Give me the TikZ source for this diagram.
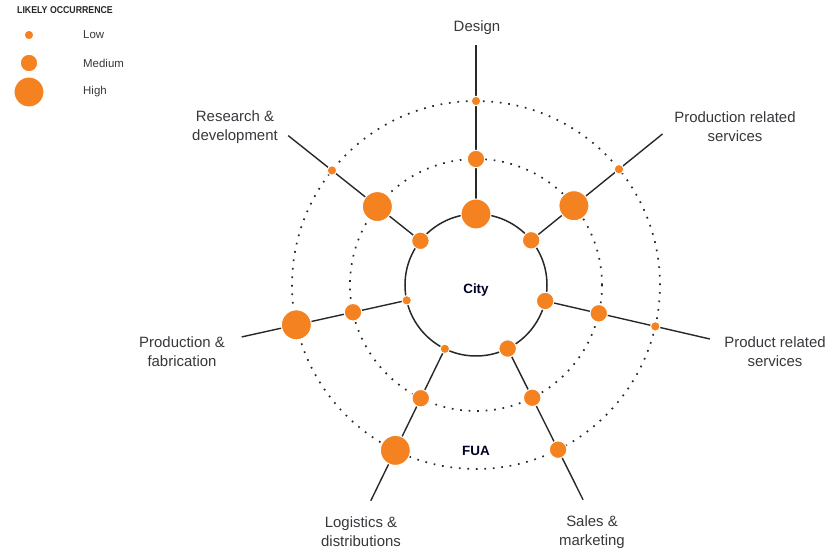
\documentclass[tikz,border=0pt]{standalone}
\usepackage{fontspec}
\setmainfont{Liberation Sans}
\newfontfamily\titlefont{Liberation Sans}[FakeStretch=0.88]
\usepackage{tikz}
\usetikzlibrary{positioning}
\definecolor{dotorange}{RGB}{245,130,32}
\definecolor{inkgray}{RGB}{55,55,60}
\definecolor{linegray}{RGB}{40,40,40}
\tikzset{lowdot/.style={circle, fill=dotorange, draw=white, line width=1bp, inner sep=0pt, minimum size=9.5bp}}
\tikzset{meddot/.style={circle, fill=dotorange, draw=white, line width=1bp, inner sep=0pt, minimum size=17.5bp}}
\tikzset{highdot/.style={circle, fill=dotorange, draw=white, line width=1bp, inner sep=0pt, minimum size=30bp}}
\tikzset{spoke/.style={draw=linegray, line width=1.4bp}}
\tikzset{ring/.style={draw=linegray, line width=1.7bp, dash pattern=on 1.7bp off 6.8bp}}
\tikzset{spokelabel/.style={align=center, text=inkgray, inner sep=0pt, font=\fontsize{15}{19}\selectfont}}
\tikzset{zonelabel/.style={text=black!85!blue, font=\fontsize{13.5}{15}\selectfont\bfseries}}
\tikzset{legendtext/.style={anchor=west, text=inkgray, inner sep=0pt, font=\fontsize{11.5}{13}\selectfont}}

\begin{document}
\begin{tikzpicture}[x=1bp, y=1bp]
\useasboundingbox (-476,-268) rectangle (353,285);

% legend
\node[anchor=west, inner sep=0pt, text=black!85, font=\fontsize{10}{12}\titlefont\bfseries] (legtitle) at (-459, 275) {LIKELY OCCURRENCE};
\node[lowdot] (leglow) at (-447, 250) {};
\node[meddot] (legmed) at (-447, 222) {};
\node[highdot] (leghigh) at (-447, 193) {};
\node[legendtext] () at (-393, 250) {Low};
\node[legendtext] () at (-393, 222) {Medium};
\node[legendtext] () at (-393, 193) {High};

% spokes
\foreach \a/\n in {90/design, 39/prodserv, -13/prodrel, -63.5/sales, 244/logistics, 192.5/fabrication, 141.5/research} {
  \coordinate (\n-in) at (\a:71);
  \coordinate (\n-out) at (\a:240);
  \draw[spoke] (\n-in) -- (\n-out);
}

% rings
\draw[ring] (0,0) circle (184);
\draw[ring] (0,0) circle (126);
\draw[draw=linegray, line width=1.5bp] (0,0) circle (71);

\node[zonelabel] (city) at (0, -5) {City};
\node[zonelabel] (fua) at (0, -166) {FUA};

% occurrence dots: inner, middle, outer
\foreach \a/\n/\i/\m/\o in {90/design/highdot/meddot/lowdot,
                           39/prodserv/meddot/highdot/lowdot,
                           -13/prodrel/meddot/meddot/lowdot,
                           -63.5/sales/meddot/meddot/meddot,
                           244/logistics/lowdot/meddot/highdot,
                           192.5/fabrication/lowdot/meddot/highdot,
                           141.5/research/meddot/highdot/lowdot} {
  \node[\i] (\n-1) at (\a:71) {};
  \node[\m] (\n-2) at (\a:126) {};
  \node[\o] (\n-3) at (\a:184) {};
}

% labels
\node[spokelabel] (designlbl) at (1, 257) {Design};
\node[spokelabel] (researchlbl) at (-241, 158) {Research \&\\development};
\node[spokelabel] (prodservlbl) at (259, 158) {Production related\\services};
\node[spokelabel] (prodrellbl) at (299, -67) {Product related\\services};
\node[spokelabel] (fabricationlbl) at (-294, -67) {Production \&\\fabrication};
\node[spokelabel] (logisticslbl) at (-115, -247) {Logistics \&\\distributions};
\node[spokelabel] (saleslbl) at (116, -247) {Sales \&\\marketing};

\end{tikzpicture}
\end{document}
